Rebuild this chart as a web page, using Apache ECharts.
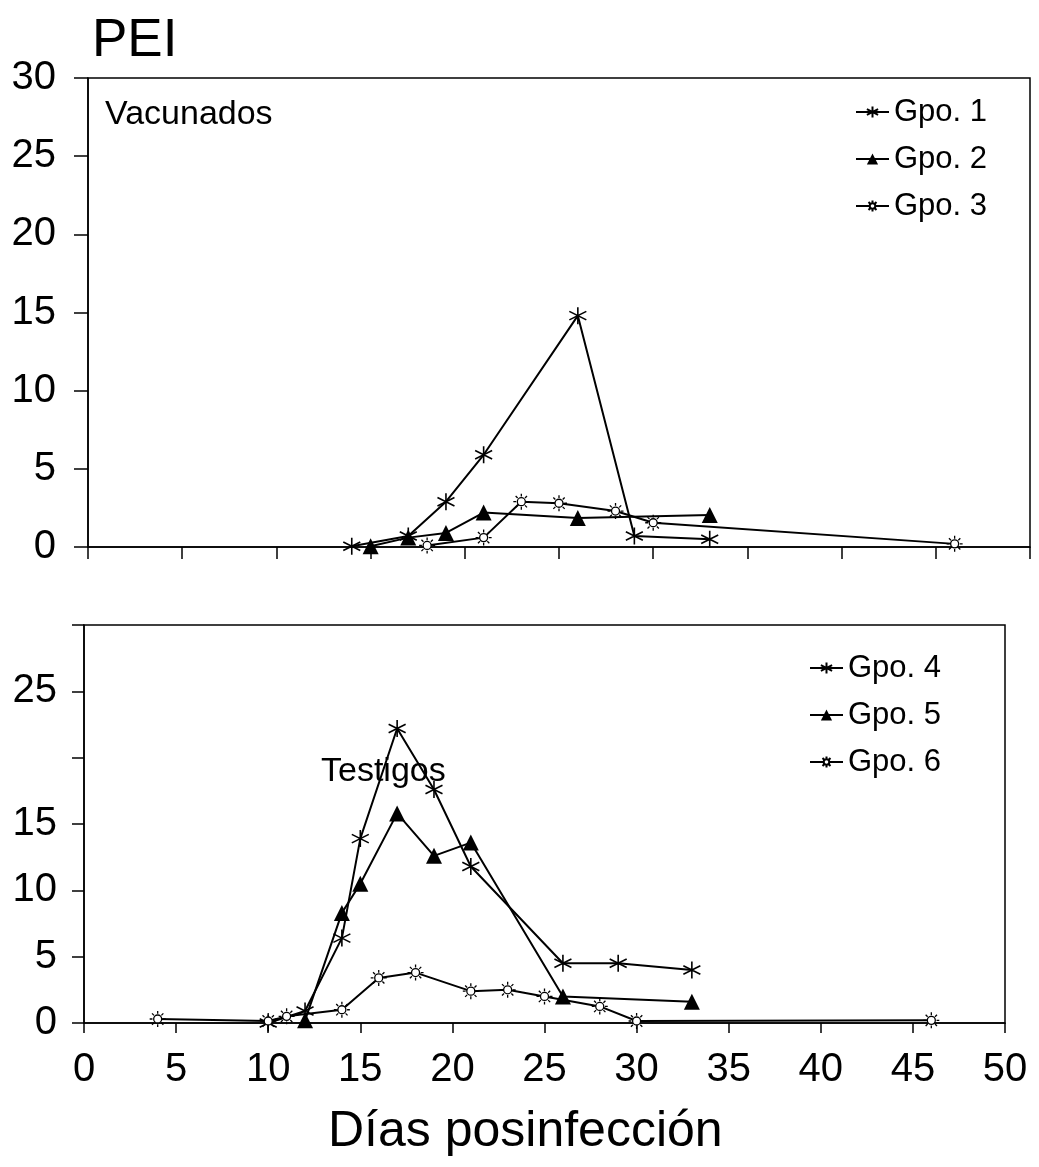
<!DOCTYPE html>
<html>
<head>
<meta charset="utf-8">
<script src="https://cdn.jsdelivr.net/npm/echarts@6/dist/echarts.min.js"></script>
<style>
  html, body { margin: 0; padding: 0; background: #fff; }
  #chart { width: 1039px; height: 1167px; }
</style>
</head>
<body>
<div id="chart"></div>
<script>
// Vacunados (panel de arriba)
const days1 = [14, 17, 19, 21, 26, 29, 33];
const vals1 = [0.05, 0.7, 2.9, 5.9, 14.8, 0.7, 0.5];
const days2 = [15, 17, 19, 21, 26, 33];
const vals2 = [0.05, 0.6, 0.9, 2.2, 1.85, 2.05];
const days3 = [18, 21, 23, 25, 28, 30, 46];
const vals3 = [0.1, 0.6, 2.9, 2.8, 2.3, 1.55, 0.2];

// Testigos (panel de abajo)
const days4 = [10, 12, 14, 15, 17, 19, 21, 26, 29, 33];
const vals4 = [0, 0.9, 6.4, 13.9, 22.2, 17.6, 11.8, 4.5, 4.5, 4.0];
const days5 = [12, 14, 15, 17, 19, 21, 26, 33];
const vals5 = [0.2, 8.3, 10.5, 15.8, 12.6, 13.6, 2.0, 1.6];
const days6 = [4, 10, 11, 14, 16, 18, 21, 23, 25, 28, 30, 46];
const vals6 = [0.3, 0.15, 0.5, 1.0, 3.4, 3.8, 2.4, 2.5, 2.0, 1.25, 0.15, 0.2];

const yHidden = [20, 30]; // etiquetas que no salen en el panel de abajo

const FONT = '"Liberation Sans", Arial, sans-serif';

const starPath = 'path://M10,0 L10,20 M1.5,5 L18.5,15 M1.5,15 L18.5,5';
const sunPath = 'path://M15,10 A5,5 0 1,1 5,10 A5,5 0 1,1 15,10 Z' +
  ' M10,0 L10,3.5 M10,16.5 L10,20 M0,10 L3.5,10 M16.5,10 L20,10' +
  ' M2.9,2.9 L5.4,5.4 M14.6,14.6 L17.1,17.1 M2.9,17.1 L5.4,14.6 M14.6,5.4 L17.1,2.9';

function pairs(d, v) {
  return d.map((x, i) => [x, v[i]]);
}

function makeSeries(name, d, v, kind, idx) {
  let symbol, symbolSize, itemStyle;
  if (kind === 'star') {
    symbol = starPath; symbolSize = 17;
    itemStyle = { color: '#000', borderColor: '#000', borderWidth: 1.6 };
  } else if (kind === 'tri') {
    symbol = 'triangle'; symbolSize = 16;
    itemStyle = { color: '#000' };
  } else {
    symbol = sunPath; symbolSize = 16;
    itemStyle = { color: '#fff', borderColor: '#000', borderWidth: 1.3 };
  }
  return {
    name: name,
    type: 'line',
    xAxisIndex: idx,
    yAxisIndex: idx,
    data: pairs(d, v),
    symbol: symbol,
    symbolSize: symbolSize,
    showAllSymbol: true,
    itemStyle: itemStyle,
    lineStyle: { color: '#000', width: 2 },
    emphasis: { disabled: true },
    animation: false,
    z: 3
  };
}

const axisLine = { lineStyle: { color: '#000', width: 1.5 } };

const chart = echarts.init(document.getElementById('chart'));
chart.setOption({
  backgroundColor: '#fff',
  textStyle: { fontFamily: FONT },
  animation: false,
  grid: [
    { left: 88, top: 78, width: 942, height: 469, show: true, borderColor: '#000', borderWidth: 1.5, backgroundColor: 'transparent' },
    { left: 84, top: 625, width: 921, height: 398, show: true, borderColor: '#000', borderWidth: 1.5, backgroundColor: 'transparent' }
  ],
  xAxis: [
    {
      gridIndex: 0, type: 'value', min: 0, max: 50, interval: 5,
      axisLine: axisLine,
      axisTick: { show: true, inside: false, length: 12, lineStyle: { color: '#000', width: 1.5 } },
      axisLabel: { show: false },
      splitLine: { show: false }
    },
    {
      gridIndex: 1, type: 'value', min: 0, max: 50, interval: 5,
      axisLine: axisLine,
      axisTick: { show: true, inside: false, length: 10, lineStyle: { color: '#000', width: 1.5 } },
      axisLabel: { color: '#000', fontSize: 40, fontFamily: FONT, margin: 27 },
      splitLine: { show: false }
    }
  ],
  yAxis: [
    {
      gridIndex: 0, type: 'value', min: 0, max: 30, interval: 5,
      axisLine: axisLine,
      axisTick: { show: true, inside: false, length: 14, lineStyle: { color: '#000', width: 1.5 } },
      axisLabel: { color: '#000', fontSize: 40, fontFamily: FONT, margin: 32, padding: [0, 0, 10, 0] },
      splitLine: { show: false }
    },
    {
      gridIndex: 1, type: 'value', min: 0, max: 30, interval: 5,
      axisLine: axisLine,
      axisTick: { show: true, inside: false, length: 12, lineStyle: { color: '#000', width: 1.5 } },
      axisLabel: {
        color: '#000', fontSize: 40, fontFamily: FONT, margin: 27,
        formatter: v => (yHidden.indexOf(v) >= 0 ? '' : String(v))
      },
      splitLine: { show: false }
    }
  ],
  legend: [
    {
      data: ['Gpo. 1', 'Gpo. 2', 'Gpo. 3'],
      orient: 'vertical', left: 855, top: 94, padding: 0,
      itemWidth: 33, itemHeight: 14, itemGap: 11,
      selectedMode: false,
      textStyle: { color: '#000', fontSize: 31, fontFamily: FONT, lineHeight: 36 }
    },
    {
      data: ['Gpo. 4', 'Gpo. 5', 'Gpo. 6'],
      orient: 'vertical', left: 809, top: 650, padding: 0,
      itemWidth: 33, itemHeight: 14, itemGap: 11,
      selectedMode: false,
      textStyle: { color: '#000', fontSize: 31, fontFamily: FONT, lineHeight: 36 }
    }
  ],
  graphic: [
    { type: 'text', left: 92, top: 15, z: 1, style: { text: 'PEI', font: '53px ' + FONT, fill: '#000' } },
    { type: 'text', left: 105, top: 98, z: 1, style: { text: 'Vacunados', font: '34px ' + FONT, fill: '#000' } },
    { type: 'text', left: 321, top: 755, z: 1, style: { text: 'Testigos', font: '34px ' + FONT, fill: '#000' } },
    { type: 'text', left: 328, top: 1107, z: 1, style: { text: 'Días posinfección', font: '50px ' + FONT, fill: '#000' } }
  ],
  series: [
    makeSeries('Gpo. 1', days1, vals1, 'star', 0),
    makeSeries('Gpo. 2', days2, vals2, 'tri', 0),
    makeSeries('Gpo. 3', days3, vals3, 'sun', 0),
    makeSeries('Gpo. 4', days4, vals4, 'star', 1),
    makeSeries('Gpo. 5', days5, vals5, 'tri', 1),
    makeSeries('Gpo. 6', days6, vals6, 'sun', 1)
  ]
});
</script>
</body>
</html>
